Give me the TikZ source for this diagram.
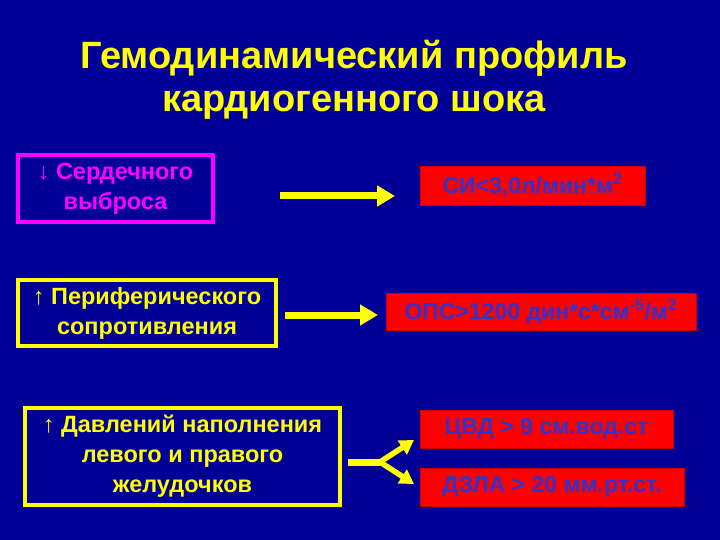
\documentclass[tikz,border=0pt]{standalone}
\usepackage{fontspec}
\setmainfont{Liberation Sans}
\definecolor{SlideBlue}{RGB}{0,0,150}
\definecolor{InkBlue}{RGB}{50,50,205}
\definecolor{BoxRed}{RGB}{255,0,0}
\definecolor{TitleYellow}{RGB}{255,255,0}
\definecolor{OutMagenta}{RGB}{255,0,255}
\usetikzlibrary{positioning,arrows.meta}

\begin{document}
\begin{tikzpicture}[x=1pt, y=-1pt,
      every node/.style={font=\bfseries, align=center, inner sep=0pt},
      cause/.style={draw=TitleYellow, line width=4pt, text=TitleYellow,
                    font=\fontsize{23.5}{30}\selectfont\bfseries},
      sign/.style={fill=BoxRed, draw=BoxRed!80!black, line width=0.6pt, text=InkBlue,
                   minimum height=38pt, font=\fontsize{23}{26}\selectfont\bfseries},
      arr/.style={draw=TitleYellow, line width=7pt, -{Triangle[length=18pt,width=20pt]}},
      arrsmall/.style={draw=TitleYellow, line width=5.5pt, -{Triangle[length=14pt,width=16pt]}}
  ]
    \fill[SlideBlue] (0,0) rectangle (720,540);
    \node[text=TitleYellow, font=\fontsize{38}{43}\selectfont\bfseries] (title) at (354,80)
      {Гемодинамический профиль\\кардиогенного шока};
    % causes
    \node[cause, draw=OutMagenta, text=OutMagenta, minimum width=195pt, minimum height=67pt]
      (cout) at (115.5,188.5) {{\mdseries↓} Сердечного\\выброса};
    \node[cause, minimum width=258pt, minimum height=66pt]
      (resist) at (147,313) {{\mdseries↑} Периферического\\сопротивления};
    \node[cause, minimum width=315pt, minimum height=97pt]
      (fill) at (182.5,456.5) {{\mdseries↑} Давлений наполнения\\левого и правого\\желудочков};
    % signs
    \node[sign, minimum width=225pt, minimum height=39pt] (ci) at (532.5,185.5)
      {СИ<3,0л/мин*м\textsuperscript{2}};
    \node[sign, minimum width=310pt, minimum height=37pt] (ops) at (541,311.5)
      {ОПС>1200 дин*с*см\textsuperscript{-5}/м\textsuperscript{2}};
    \node[sign, minimum width=253pt] (cvd) at (546.5,429) {ЦВД > 9 см.вод.ст};
    \node[sign, minimum width=264pt] (dzla) at (552,487) {ДЗЛА > 20 мм.рт.ст.};
    % arrows
    \coordinate (a1s) at (280,196);
    \coordinate (a1e) at (395,196);
    \coordinate (a2s) at (285,315);
    \coordinate (a2e) at (378,315);
    \coordinate (a3s) at (348,462);
    \coordinate (fork) at (380,462);
    \coordinate (a3u) at (414,440);
    \coordinate (a3d) at (414,484);
    \draw[arr] (a1s) -- (a1e);
    \draw[arr] (a2s) -- (a2e);
    \draw[TitleYellow, line width=7pt] (a3s) -- (fork);
    \draw[arrsmall] (fork) -- (a3u);
    \draw[arrsmall] (fork) -- (a3d);
  \end{tikzpicture}
\end{document}
